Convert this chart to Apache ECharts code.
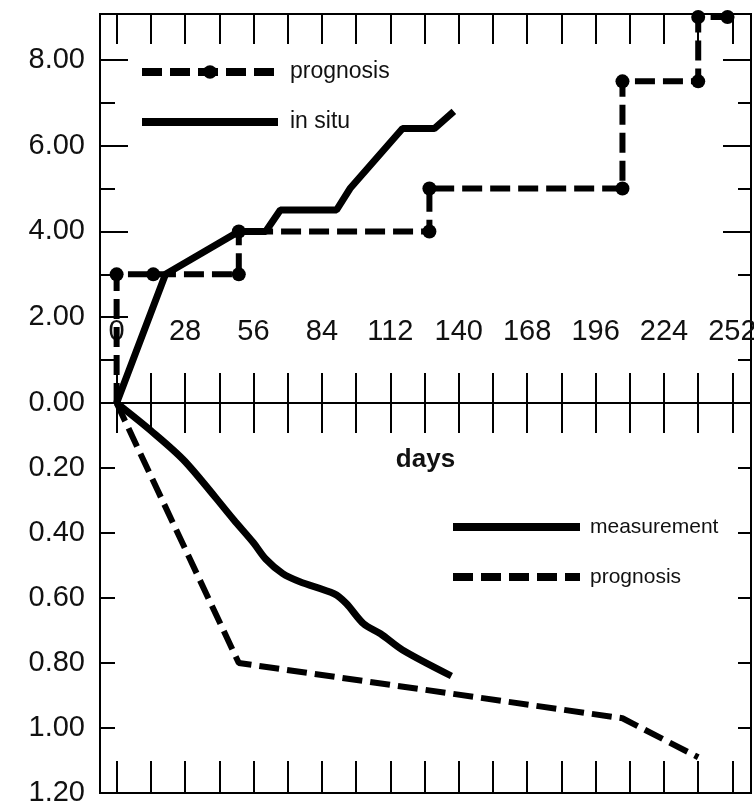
<!DOCTYPE html>
<html>
<head>
<meta charset="utf-8">
<script src="https://cdn.jsdelivr.net/npm/echarts@6/dist/echarts.min.js"></script>
<style>
html,body{margin:0;padding:0;background:#fff;}
#chart{width:754px;height:808px;}
</style>
</head>
<body>
<div id="chart"></div>
<script>
// tick positions along the day axis
var dayTicks = [0,14,28,42,56,70,84,98,112,126,140,154,168,182,196,210,224,238,252];
var dayLabels = [0,28,56,84,112,140,168,196,224,252];
var loadMajor = [0,2,4,6,8];
var loadMinor = [1,3,5,7];
var settleTicks = [0,0.2,0.4,0.6,0.8,1.0,1.2];

// upper panel: load
var progDays = [0,0,15,50,50,128,128,207,207,238,238,250];
var progLoad = [0,3,3,3,4,4,5,5,7.5,7.5,9,9];
var situDays = [0,20,50,61,67,90,95.5,117,130,138];
var situLoad = [0,3,4,4,4.5,4.5,5.0,6.4,6.4,6.8];

// lower panel: settlement
var measDays = [0,14,28,48,56,61,68,75,89,94,101,108,117,137];
var measSettle = [0,0.085,0.18,0.36,0.43,0.48,0.525,0.55,0.587,0.617,0.679,0.71,0.76,0.84];
var prog2Days = [0,50,207,238];
var prog2Settle = [0,0.80,0.97,1.09];

var FONT = '"Liberation Sans", Arial, sans-serif';

function pairs(xs, ys) {
    var out = [];
    for (var i = 0; i < xs.length; i++) out.push([xs[i], ys[i]]);
    return out;
}

var progData = pairs(progDays, progLoad).map(function (p, i) {
    return i === 0 ? {value: p, symbol: 'none'} : p;
});

var legendNames = {
    'prognosis': 'prognosis',
    'in situ': 'in situ',
    'measurement': 'measurement',
    'prognosis2': 'prognosis'
};

var axisLine = {show: true, onZero: false, lineStyle: {color: '#000', width: 2}};
var noSymbol = {color: 'rgba(0,0,0,0)', opacity: 0, borderWidth: 0};

function xTicksOnly(grid, pos, len) {
    return {
        type: 'value', gridIndex: grid, position: pos, min: -6.8, max: 259.6,
        axisLine: axisLine,
        axisTick: {show: true, inside: true, length: len, customValues: dayTicks, lineStyle: {color: '#000', width: 2}},
        axisLabel: {show: false},
        splitLine: {show: false}
    };
}

function yTicks(grid, pos, ticks, len, opts) {
    var a = {
        type: 'value', gridIndex: grid, position: pos,
        min: opts.min, max: opts.max,
        axisLine: axisLine,
        axisTick: {show: true, inside: true, length: len, customValues: ticks, lineStyle: {color: '#000', width: 2}},
        axisLabel: {show: false},
        splitLine: {show: false}
    };
    if (opts.inverse) a.inverse = true;
    return a;
}

var xTop = xTicksOnly(0, 'bottom', 30);
xTop.axisLabel = {
    show: true, inside: true, customValues: dayLabels, margin: 57,
    fontSize: 29, fontFamily: FONT, color: '#111'
};
xTop.name = 'days';
xTop.nameLocation = 'middle';
xTop.nameGap = 44;
xTop.nameTextStyle = {fontSize: 26, fontWeight: 'bold', fontFamily: FONT, color: '#111'};

var yLoadLeft = yTicks(0, 'left', loadMajor, 28, {min: 0, max: 9.07});
yLoadLeft.axisLabel = {
    show: true, customValues: loadMajor, margin: 15, fontSize: 29, fontFamily: FONT, color: '#111',
    formatter: function (v) { return v.toFixed(2); }
};
var ySetLeft = yTicks(1, 'left', settleTicks, 15, {min: 0, max: 1.2, inverse: true});
ySetLeft.axisLabel = {
    show: true, customValues: settleTicks.slice(1), margin: 15, fontSize: 29, fontFamily: FONT, color: '#111',
    formatter: function (v) { return v.toFixed(2); }
};

var chart = echarts.init(document.getElementById('chart'));
var option = {
    animation: false,
    backgroundColor: '#fff',
    grid: [
        {left: 100, right: 3, top: 14, height: 389, show: true, borderColor: '#000', borderWidth: 2, outerBoundsMode: 'none', containLabel: false},
        {left: 100, right: 3, top: 403, height: 390, show: true, borderColor: '#000', borderWidth: 2, outerBoundsMode: 'none', containLabel: false}
    ],
    xAxis: [
        xTop,
        xTicksOnly(0, 'top', 30),
        xTicksOnly(1, 'top', 30),
        xTicksOnly(1, 'bottom', 32)
    ],
    yAxis: [
        yLoadLeft,
        yTicks(0, 'left', loadMinor, 15, {min: 0, max: 9.07}),
        yTicks(0, 'right', loadMajor.slice(2), 28, {min: 0, max: 9.07}),
        yTicks(0, 'right', loadMinor, 13, {min: 0, max: 9.07}),
        ySetLeft,
        yTicks(1, 'right', settleTicks, 13, {min: 0, max: 1.2, inverse: true})
    ],
    legend: [
        {
            data: ['prognosis', {name: 'in situ', itemStyle: noSymbol}],
            orient: 'vertical', left: 138, top: 57, padding: 0,
            itemWidth: 136, itemHeight: 17, itemGap: 20,
            formatter: function (n) { return legendNames[n]; },
            lineStyle: {width: 8},
            textStyle: {fontSize: 23, lineHeight: 30, fontFamily: FONT, color: '#111', padding: [0, 0, 0, 7]}
        },
        {
            data: [{name: 'measurement', itemStyle: noSymbol}, {name: 'prognosis2', itemStyle: noSymbol}],
            orient: 'vertical', left: 449, top: 512, padding: 0,
            itemWidth: 127, itemHeight: 17, itemGap: 20,
            formatter: function (n) { return legendNames[n]; },
            lineStyle: {width: 8},
            textStyle: {fontSize: 21, lineHeight: 30, fontFamily: FONT, color: '#111', padding: [0, 0, 0, 5]}
        }
    ],
    series: [
        {
            name: 'prognosis', type: 'line', xAxisIndex: 0, yAxisIndex: 0,
            data: progData, symbol: 'circle', symbolSize: 14,
            itemStyle: {color: '#000'},
            lineStyle: {color: '#000', width: 6, type: [20, 8]}
        },
        {
            name: 'in situ', type: 'line', xAxisIndex: 0, yAxisIndex: 0,
            data: pairs(situDays, situLoad), symbol: 'none',
            itemStyle: {color: '#000'},
            lineStyle: {color: '#000', width: 7}
        },
        {
            name: 'measurement', type: 'line', xAxisIndex: 2, yAxisIndex: 4,
            data: pairs(measDays, measSettle), symbol: 'none', smooth: 0.3,
            itemStyle: {color: '#000'},
            lineStyle: {color: '#000', width: 7}
        },
        {
            name: 'prognosis2', type: 'line', xAxisIndex: 2, yAxisIndex: 4,
            data: pairs(prog2Days, prog2Settle), symbol: 'none',
            itemStyle: {color: '#000'},
            lineStyle: {color: '#000', width: 6, type: [20, 8]}
        }
    ]
};
chart.setOption(option);
</script>
</body>
</html>
